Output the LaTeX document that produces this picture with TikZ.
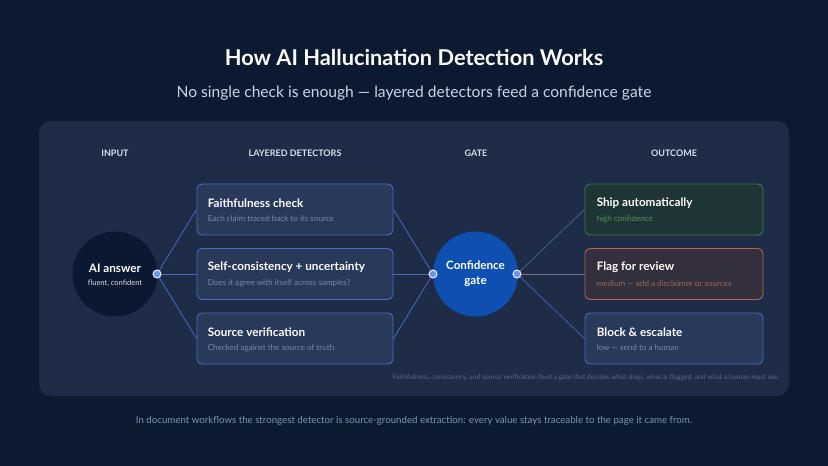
\documentclass[tikz,border=0pt]{standalone}
\usepackage{fontspec}
\setmainfont{Lato}
\usepackage{xcolor}
\usetikzlibrary{positioning,calc}

\definecolor{bgnavy}{HTML}{0B1A30}
\definecolor{panelcol}{HTML}{1F2C47}
\definecolor{detfill}{HTML}{28395A}
\definecolor{detdraw}{HTML}{4B6BC4}
\definecolor{answerfill}{HTML}{0A1931}
\definecolor{gatefill}{HTML}{0E4FB2}
\definecolor{portfill}{HTML}{6B94F0}
\definecolor{linkcol}{HTML}{4A69BD}
\definecolor{shipfill}{HTML}{1F3535}
\definecolor{shipdraw}{HTML}{3D7A4C}
\definecolor{shiptext}{HTML}{5A8A62}
\definecolor{flagfill}{HTML}{332F3C}
\definecolor{flagdraw}{HTML}{B5694A}
\definecolor{flagtext}{HTML}{9A6A58}
\definecolor{subgray}{HTML}{7A88A8}
\definecolor{headcol}{HTML}{D8DEE8}
\definecolor{subtitlecol}{HTML}{C8D4E6}
\definecolor{notecol}{HTML}{5A6A88}
\definecolor{captioncol}{HTML}{7F93B5}

\begin{document}
\begin{tikzpicture}[
    x=1pt, y=-1pt,
    detbox/.style={draw=detdraw, fill=detfill, rounded corners=5pt, line width=0.9pt, minimum width=196pt, minimum height=51pt, inner sep=0pt},
    outbox/.style={rounded corners=5pt, line width=0.9pt, minimum width=178pt, minimum height=51pt, inner sep=0pt},
    boxtitle/.style={anchor=west, font=\fontsize{11.7}{14}\selectfont\bfseries, text=white, inner sep=0pt},
    boxsub/.style={anchor=west, font=\fontsize{8.1}{10}\selectfont, text=subgray, inner sep=0pt},
    header/.style={font=\fontsize{9}{11}\selectfont\bfseries, text=headcol},
    port/.style={circle, draw=white!85!portfill, fill=portfill, line width=1pt, minimum size=8pt, inner sep=0pt},
    link/.style={draw=linkcol, line width=0.8pt},
]

% Background and bounding box
\fill[bgnavy] (0,0) rectangle (828,466);
\useasboundingbox (0,0) rectangle (828,466);

% Title and subtitle
\node[font=\fontsize{21.8}{25}\selectfont\bfseries, text=white] (title) at (414,57) {How AI Hallucination Detection Works};
\node[font=\fontsize{15.6}{18}\selectfont, text=subtitlecol] (subtitle) at (414,93) {No single check is enough — layered detectors feed a confidence gate};

% Panel
\fill[panelcol, rounded corners=12pt] (39,121) rectangle (789,396);

% Column headers
\node[header] (hinput) at (115,153) {INPUT};
\node[header] (hdet) at (295,153) {LAYERED DETECTORS};
\node[header] (hgate) at (476,153) {GATE};
\node[header] (hout) at (674,153) {OUTCOME};

% Input circle
\node[circle, fill=answerfill, minimum size=85pt, inner sep=0pt] (answer) at (115,274) {};
\node[font=\fontsize{11.7}{14}\selectfont\bfseries, text=white] at ([yshift=6pt]answer.center) {AI answer};
\node[font=\fontsize{7.5}{9}\selectfont, text=headcol] at ([yshift=-9pt]answer.center) {fluent, confident};

% Detector boxes
\node[detbox] (faith) at (295,209.5) {};
\node[boxtitle] at ([xshift=11pt, yshift=6.5pt]faith.west) {Faithfulness check};
\node[boxsub] at ([xshift=11pt, yshift=-9.5pt]faith.west) {Each claim traced back to its source};

\node[detbox] (selfc) at (295,274) {};
\node[boxtitle] at ([xshift=11pt, yshift=6.5pt]selfc.west) {Self-consistency + uncertainty};
\node[boxsub] at ([xshift=11pt, yshift=-9.5pt]selfc.west) {Does it agree with itself across samples?};

\node[detbox] (source) at (295,338.5) {};
\node[boxtitle] at ([xshift=11pt, yshift=6.5pt]source.west) {Source verification};
\node[boxsub] at ([xshift=11pt, yshift=-9.5pt]source.west) {Checked against the source of truth};

% Gate circle
\node[circle, fill=gatefill, minimum size=85pt, inner sep=0pt, align=center, font=\fontsize{11.6}{15}\selectfont\bfseries, text=white] (gate) at (475.5,274) {Confidence\\gate};

% Outcome boxes
\node[outbox, draw=shipdraw, fill=shipfill] (ship) at (674,209.5) {};
\node[boxtitle] at ([xshift=12pt, yshift=6.5pt]ship.west) {Ship automatically};
\node[boxsub, text=shiptext] at ([xshift=12pt, yshift=-9.5pt]ship.west) {high confidence};

\node[outbox, draw=flagdraw, fill=flagfill] (flag) at (674,274) {};
\node[boxtitle] at ([xshift=12pt, yshift=6.5pt]flag.west) {Flag for review};
\node[boxsub, text=flagtext] at ([xshift=12pt, yshift=-9.5pt]flag.west) {medium — add a disclaimer or sources};

\node[outbox, draw=detdraw, fill=detfill] (block) at (674,338.5) {};
\node[boxtitle] at ([xshift=12pt, yshift=6.5pt]block.west) {Block \& escalate};
\node[boxsub] at ([xshift=12pt, yshift=-9.5pt]block.west) {low — send to a human};

% Ports
\coordinate (pin) at (157,274);
\coordinate (pgatein) at (433,274);
\coordinate (pgateout) at (517,274);

% Connectors
\foreach \d in {faith,selfc,source} {
  \draw[link] (pin) -- (\d.west);
  \draw[link] (\d.east) -- (pgatein);
}
\draw[draw=linkcol!60!shipdraw, line width=0.8pt, opacity=0.8] (pgateout) -- (ship.west);
\draw[draw=linkcol!60!flagdraw, line width=1pt] (pgateout) -- (flag.west);
\draw[draw=linkcol, line width=0.8pt, opacity=0.8] (pgateout) -- (block.west);

\node[port] (portin) at (pin) {};
\node[port] (portgatein) at (pgatein) {};
\node[port] (portgateout) at (pgateout) {};

% Footnote in panel
\node[anchor=east, font=\fontsize{6.8}{8}\selectfont, text=notecol] (note) at (783,378) {Faithfulness, consistency, and source verification feed a gate that decides what ships, what is flagged, and what a human must see.};

% Bottom caption
\node[font=\fontsize{9.7}{12}\selectfont, text=captioncol] (caption) at (414,421) {In document workflows the strongest detector is source-grounded extraction: every value stays traceable to the page it came from.};

\end{tikzpicture}
\end{document}
